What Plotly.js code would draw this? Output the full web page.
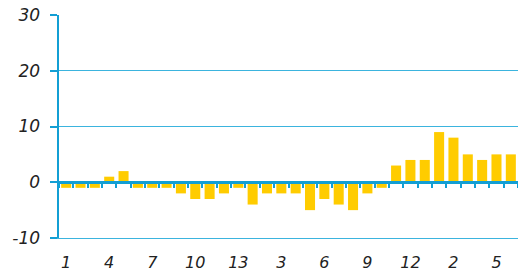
<!DOCTYPE html>
<html>
<head>
<meta charset="utf-8">
<script src="https://cdn.plot.ly/plotly-3.0.1.min.js"></script>
<style>
html,body{margin:0;padding:0;background:#fff;}
#chart{width:518px;height:275px;}
</style>
</head>
<body>
<div id="chart"></div>
<script>
// Category labels (three runs of periods)
var labels = ["1","2","3","4","5","6","7","8","9","10","11","12","13",
              "1","2","3","4","5","6","7","8","9","10","11","12","13",
              "1","2","3","4","5","6"];
var values = [-1,-1,-1,1,2,-1,-1,-1,-2,-3,-3,-2,-1,
              -4,-2,-2,-2,-5,-3,-4,-5,-2,-1,3,4,
              4,9,8,5,4,5,5];
var yTicks = [-10,0,10,20,30];
var labelStep = 3;

var idx = labels.map(function(_, i){ return i; });
var tickIdx = idx.filter(function(i){ return i % labelStep === 0; });
var tickTxt = tickIdx.map(function(i){ return labels[i]; });
var bounds = idx.map(function(i){ return i - 0.5; }).concat([labels.length - 0.5]);

var axisBlue = '#139fd4';
var gridBlue = '#3bb4de';
var xr = [-0.5, labels.length - 0.5];

var trace = {
  type: 'bar', x: idx, y: values,
  marker: {color: '#ffcc00', line: {width: 0}}, hoverinfo: 'none'
};
// invisible copy so the zero-line axis (x2) is drawn
var ghost = {
  type: 'bar', x: idx, y: values, xaxis: 'x2', yaxis: 'y',
  marker: {color: 'rgba(0,0,0,0)', line: {width: 0}}, hoverinfo: 'none'
};

var layout = {
  width: 518, height: 275,
  margin: {l: 59, r: 0, t: 15, b: 37},
  paper_bgcolor: '#ffffff', plot_bgcolor: '#ffffff',
  showlegend: false, bargap: 0.3,
  font: {family: 'DejaVu Sans', color: '#222222'},
  xaxis: {
    range: xr, tickmode: 'array', tickvals: tickIdx, ticktext: tickTxt,
    ticks: '', showgrid: false, zeroline: false,
    showline: true, linecolor: gridBlue, linewidth: 1,
    ticklabelstandoff: 10,
    tickfont: {family: 'DejaVu Sans', size: 16, style: 'italic', color: '#222222'}
  },
  xaxis2: {
    overlaying: 'x', anchor: 'free', position: 0.25, side: 'bottom',
    range: xr, tickmode: 'array', tickvals: bounds,
    ticks: 'outside', ticklen: 4, tickwidth: 2, tickcolor: axisBlue,
    showticklabels: false, showgrid: false, zeroline: false,
    showline: true, linecolor: axisBlue, linewidth: 2.5
  },
  yaxis: {
    range: [-10, 30], tickmode: 'array', tickvals: yTicks, ticktext: yTicks.map(String),
    ticks: 'outside', ticklen: 7, tickwidth: 2, tickcolor: axisBlue,
    showline: true, linecolor: axisBlue, linewidth: 2.5,
    showgrid: true, gridcolor: gridBlue, gridwidth: 1, zeroline: false,
    ticklabelstandoff: 6,
    tickfont: {family: 'DejaVu Sans', size: 17, style: 'italic', color: '#222222'}
  }
};

Plotly.newPlot('chart', [trace, ghost], layout, {staticPlot: true, displayModeBar: false});
</script>
</body>
</html>
